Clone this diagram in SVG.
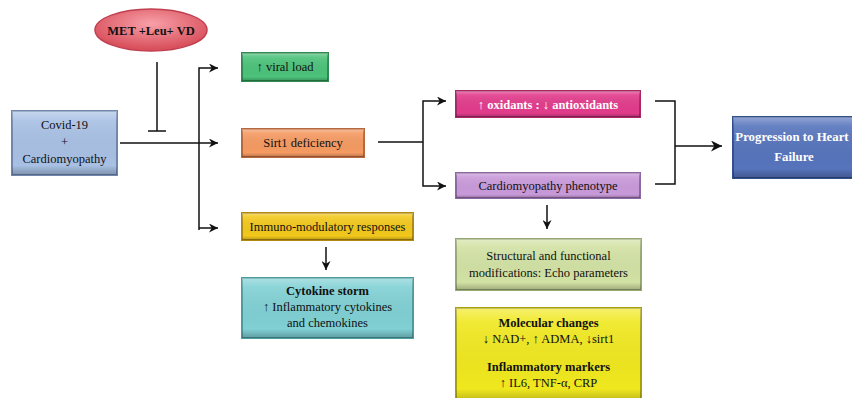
<svg xmlns="http://www.w3.org/2000/svg" width="852" height="398" viewBox="0 0 852 398">
<defs>
<linearGradient id="shade" x1="0" y1="0" x2="0" y2="1">
<stop offset="0" stop-color="#fff" stop-opacity="0.35"/>
<stop offset="0.15" stop-color="#fff" stop-opacity="0.1"/>
<stop offset="0.85" stop-color="#000" stop-opacity="0"/>
<stop offset="1" stop-color="#000" stop-opacity="0.25"/>
</linearGradient>
<radialGradient id="ell" cx="0.5" cy="0.35" r="0.6">
<stop offset="0" stop-color="#f8a0a8"/>
<stop offset="1" stop-color="#d8505c"/>
</radialGradient>
<marker id="arr" viewBox="0 0 10 10" refX="10" refY="5" markerWidth="9" markerHeight="9" markerUnits="userSpaceOnUse" orient="auto">
<path d="M0,0 L10,5 L0,10 L3,5 Z" fill="#111"/>
</marker>
<marker id="arr2" viewBox="0 0 10 10" refX="10" refY="5" markerWidth="11" markerHeight="11" markerUnits="userSpaceOnUse" orient="auto">
<path d="M0,0 L10,5 L0,10 L3,5 Z" fill="#111"/>
</marker>
</defs>
<style>
.t{font-family:"Liberation Serif","Times New Roman",serif;font-size:12.5px;fill:#111;text-anchor:middle}
.b{font-weight:bold}
.w{fill:#fff}
.p{font-size:12.8px}
.c{fill:none;stroke:#111;stroke-width:1.5}
.ov{fill:url(#shade);stroke:none}
</style>
<rect width="852" height="398" fill="#fff"/>

<g id="connectors">
<path class="c" d="M157,62 V131 M148,131 H166"/>
<path class="c" d="M120,143 H218" marker-end="url(#arr)"/>
<path class="c" d="M199,230 V68 H218" marker-end="url(#arr)"/>
<path class="c" d="M199,228 H218" marker-end="url(#arr)"/>
<path class="c" d="M326,247 V270" marker-end="url(#arr)"/>
<path class="c" d="M378,142 H423"/>
<path class="c" d="M423,142 V101 H446" marker-end="url(#arr)"/>
<path class="c" d="M423,142 V186 H446" marker-end="url(#arr)"/>
<path class="c" d="M547,205 V229" marker-end="url(#arr)"/>
<path class="c" d="M655,101 H675 V184 H655"/>
<path class="c" d="M675,146 H722" marker-end="url(#arr2)"/>
</g>

<g id="met">
<ellipse cx="151" cy="30" rx="56" ry="21" fill="url(#ell)" stroke="#c04050" stroke-width="1.5"/>
<text class="t b" x="151" y="35">MET +Leu+ VD</text>
</g>

<g id="covid">
<rect x="12" y="111" width="105" height="64" fill="#a8c0e4" stroke="#6f86ad" stroke-width="2"/>
<rect class="ov" x="12" y="111" width="105" height="64"/>
<text class="t" x="64.5" y="129">Covid-19</text>
<text class="t" x="64.5" y="146">+</text>
<text class="t" x="64.5" y="163">Cardiomyopathy</text>
</g>

<g id="viral">
<rect x="242" y="53" width="86" height="28" fill="#4cc27a" stroke="#2f8a50" stroke-width="2"/>
<rect class="ov" x="242" y="53" width="86" height="28"/>
<text class="t" x="285" y="71">↑ viral load</text>
</g>

<g id="sirt1">
<rect x="242" y="129" width="122" height="28" fill="#f59a62" stroke="#b8683c" stroke-width="2"/>
<rect class="ov" x="242" y="129" width="122" height="28"/>
<text class="t" x="303" y="147">Sirt1 deficiency</text>
</g>

<g id="immuno">
<rect x="242" y="213" width="171" height="27" fill="#f2c81c" stroke="#b08a10" stroke-width="2"/>
<rect class="ov" x="242" y="213" width="171" height="27"/>
<text class="t" x="327.5" y="231">Immuno-modulatory responses</text>
</g>

<g id="cytokine">
<rect x="242" y="278" width="171" height="60" fill="#80d0d4" stroke="#4c9ca0" stroke-width="2"/>
<rect class="ov" x="242" y="278" width="171" height="60"/>
<text class="t b" x="327.5" y="295">Cytokine storm</text>
<text class="t" x="327.5" y="311">↑ Inflammatory cytokines</text>
<text class="t" x="327.5" y="327">and chemokines</text>
</g>

<g id="oxidants">
<rect x="456" y="91" width="184" height="26" fill="#e23c8c" stroke="#a82866" stroke-width="2"/>
<rect class="ov" x="456" y="91" width="184" height="26"/>
<text class="t b w" x="548" y="109">↑ oxidants : ↓ antioxidants</text>
</g>

<g id="phenotype">
<rect x="456" y="173" width="184" height="25" fill="#c99ada" stroke="#8e68a0" stroke-width="2"/>
<rect class="ov" x="456" y="173" width="184" height="25"/>
<text class="t" x="548" y="190">Cardiomyopathy phenotype</text>
</g>

<g id="structural">
<rect x="456" y="239" width="185" height="51" fill="#d2e2a4" stroke="#98a872" stroke-width="2"/>
<rect class="ov" x="456" y="239" width="185" height="51"/>
<text class="t" x="548.5" y="260">Structural and  functional</text>
<text class="t" x="548.5" y="277">modifications: Echo parameters</text>
</g>

<g id="molecular">
<rect x="456" y="308" width="185" height="95" fill="#f0e81e" stroke="#a8a010" stroke-width="2"/>
<rect class="ov" x="456" y="308" width="185" height="95"/>
<text class="t b" x="548.5" y="327">Molecular changes</text>
<text class="t" x="548.5" y="343">↓ NAD+, ↑ ADMA, ↓sirt1</text>
<text class="t b" x="548.5" y="371">Inflammatory markers</text>
<text class="t" x="548.5" y="387">↑ IL6, TNF-α, CRP</text>
</g>

<g id="progression">
<rect x="733" y="117" width="125" height="61" fill="#5674bc" stroke="#34508c" stroke-width="2"/>
<rect class="ov" x="733" y="117" width="125" height="61"/>
<text class="t b w p" x="792" y="141">Progression to Heart</text>
<text class="t b w p" x="794" y="161">Failure</text>
</g>
</svg>
